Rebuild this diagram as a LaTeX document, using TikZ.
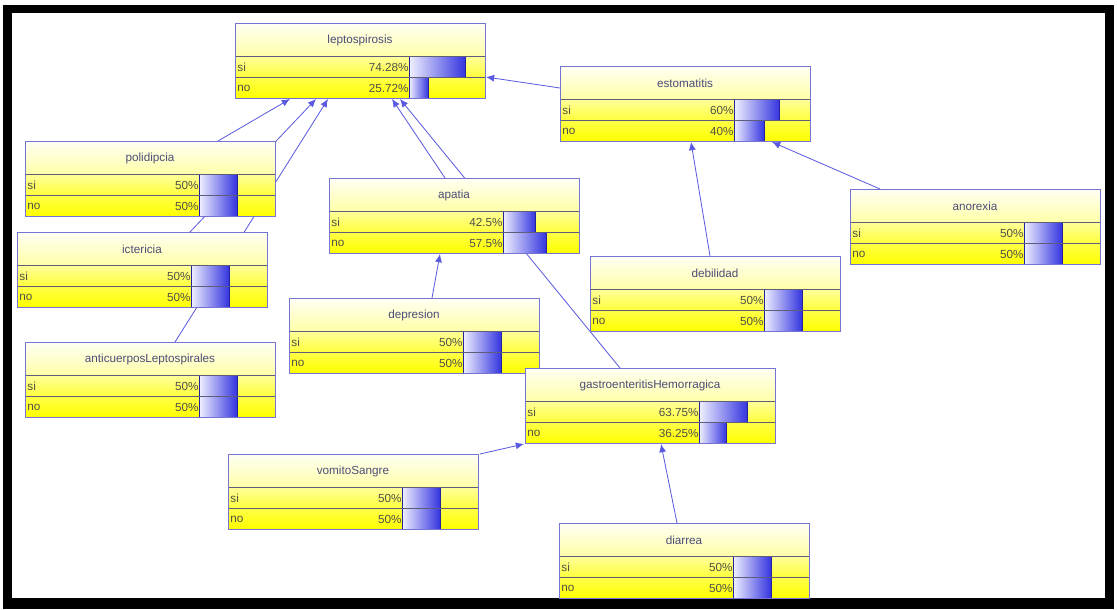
\documentclass[tikz,border=0pt]{standalone}
\usepackage{fontspec}
\newfontfamily\netfont{Liberation Sans}
\usetikzlibrary{calc,arrows.meta}
\pgfdeclarelayer{back}
\pgfdeclarelayer{links}
\pgfsetlayers{back,links,main}

\definecolor{boxline}{HTML}{7474D4}
\definecolor{rowline}{HTML}{5E5E7A}
\definecolor{titletop}{HTML}{FFFFF4}
\definecolor{titlebot}{HTML}{FFFFA8}
\definecolor{sitop}{HTML}{FFFF9C}
\definecolor{sibot}{HTML}{FFFF3C}
\definecolor{notop}{HTML}{FFFF4A}
\definecolor{nobot}{HTML}{FFFF00}
\definecolor{barlight}{HTML}{F0F0FF}
\definecolor{bardark}{HTML}{3434E0}
\definecolor{linkcol}{HTML}{5A5AE0}
\definecolor{titletxt}{HTML}{4C4C78}
\definecolor{rowtxt}{HTML}{505048}

\tikzset{
  netbox/.style={draw=boxline, line width=0.8pt, minimum width=7.5cm,
    minimum height=2.25cm, inner sep=0pt, outer sep=0pt},
  titletext/.style={font=\netfont\fontsize{10pt}{12pt}\selectfont, text=titletxt},
  statetext/.style={font=\netfont\fontsize{10pt}{12pt}\selectfont, text=rowtxt, inner sep=1pt},
  link/.style={draw=linkcol, line width=0.7pt, -{Latex[length=7pt,width=6pt]}},
}

% one network variable: name, left, top, title, P(si), P(no)
\newcommand\netvar[6]{%
  \begin{scope}[shift={(#2,#3)}]
    \shade[top color=titletop, bottom color=titlebot] (0,0) rectangle (250,33);
    \shade[top color=sitop, bottom color=sibot] (0,33) rectangle (250,54);
    \shade[top color=notop, bottom color=nobot] (0,54) rectangle (250,75);
    \shade[left color=barlight, right color=bardark, draw=bardark!70!black, line width=0.4pt]
      (174,33) rectangle ({174+0.76*#5},54);
    \shade[left color=barlight, right color=bardark, draw=bardark!70!black, line width=0.4pt]
      (174,54) rectangle ({174+0.76*#6},75);
    \draw[rowline, line width=0.7pt] (0,33) -- (250,33);
    \draw[rowline, line width=0.7pt] (0,54) -- (250,54);
    \node[titletext] at (125,17) {#4};
    \node[statetext, anchor=west] at (1,44) {si};
    \node[statetext, anchor=west] at (1,65) {no};
    \node[statetext, anchor=east] at (175,44) {#5\%};
    \node[statetext, anchor=east] at (175,65) {#6\%};
  \end{scope}
  \node[netbox] (#1) at ({#2+125},{#3+37.5}) {};
}

\begin{document}
\begin{tikzpicture}[x=0.03cm, y=-0.03cm]
\useasboundingbox (0,0) rectangle (1117,609);

% page frame
\begin{pgfonlayer}{back}
  \fill[white] (0,0) rectangle (1117,609);
  \fill[black] (3,5) rectangle (1114,609);
  \fill[white] (12,13) rectangle (1105,598);
\end{pgfonlayer}

% variables
\netvar{lepto}{235}{23}{leptospirosis}{74.28}{25.72}
\netvar{estom}{560}{66}{estomatitis}{60}{40}
\netvar{polid}{25}{141}{polidipcia}{50}{50}
\netvar{apatia}{329}{178}{apatia}{42.5}{57.5}
\netvar{anorex}{850}{189}{anorexia}{50}{50}
\netvar{icter}{17}{232}{ictericia}{50}{50}
\netvar{debil}{590}{256}{debilidad}{50}{50}
\netvar{depres}{289}{298}{depresion}{50}{50}
\netvar{antic}{25}{342}{anticuerposLeptospirales}{50}{50}
\netvar{gastro}{525}{368}{gastroenteritisHemorragica}{63.75}{36.25}
\netvar{vomito}{228}{454}{vomitoSangre}{50}{50}
\netvar{diarrea}{559}{523}{diarrea}{50}{50}

% dependencies
\begin{pgfonlayer}{links}
  \draw[link] ($(estom.north west)+(0,22)$) -- ($(lepto.north west)+(251,54)$);
  \draw[link] ($(polid.north west)+(193,0)$) -- ($(lepto.north west)+(55,76)$);
  \draw[link] ($(icter.north west)+(173,0)$) -- ($(lepto.north west)+(81,76)$);
  \draw[link] ($(antic.north west)+(150,0)$) -- ($(lepto.north west)+(93,76)$);
  \draw[link] ($(apatia.north west)+(116,0)$) -- ($(lepto.north west)+(157,76)$);
  \draw[link] ($(gastro.north west)+(95,0)$) -- ($(lepto.north west)+(165,76)$);
  \draw[link] ($(depres.north west)+(143,0)$) -- ($(apatia.north west)+(111,76)$);
  \draw[link] ($(debil.north west)+(120,0)$) -- ($(estom.north west)+(131,76)$);
  \draw[link] ($(anorex.north west)+(30,0)$) -- ($(estom.north west)+(212,76)$);
  \draw[link] ($(vomito.north west)+(252,0)$) -- ($(gastro.north west)+(-1,76)$);
  \draw[link] ($(diarrea.north west)+(118,0)$) -- ($(gastro.north west)+(136,76)$);
\end{pgfonlayer}
\end{tikzpicture}
\end{document}
